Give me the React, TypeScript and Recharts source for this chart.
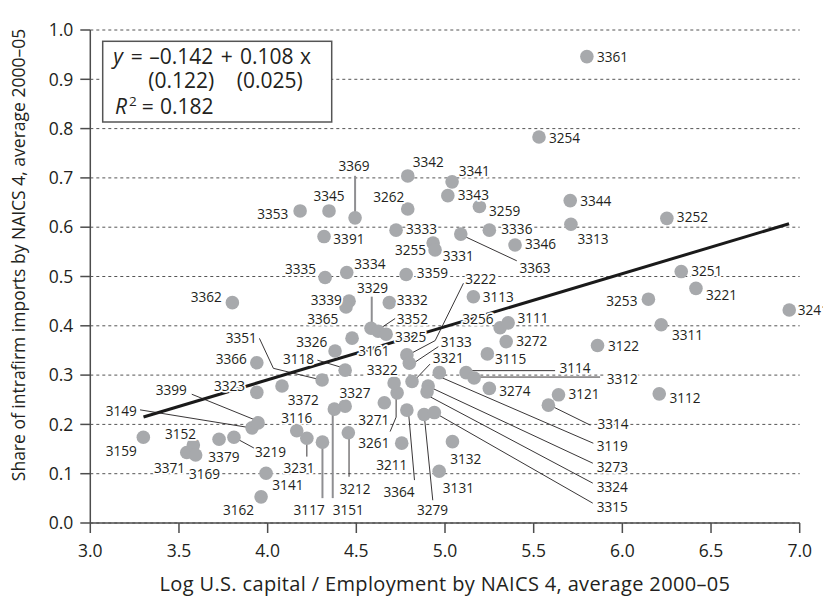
import React from 'react';
import { ComposedChart, Scatter, XAxis, YAxis, CartesianGrid } from 'recharts';

const codes = [
  '3361','3254','3342','3341','3343','3259','3336','3363','3346','3344',
  '3313','3252','3333','3262','3345','3353','3369','3391','3255','3331',
  '3335','3334','3359','3362','3339','3365','3329','3332','3352','3325',
  '3161','3326','3118','3351','3366','3323','3372','3327','3149','3399',
  '3159','3152','3371','3169','3379','3219','3116','3231','3117','3151',
  '3212','3141','3162','3271','3261','3364','3279','3211','3132','3131',
  '3222','3133','3321','3322','3256','3111','3113','3272','3115','3114',
  '3312','3274','3121','3314','3119','3273','3324','3315','3122','3253',
  '3251','3221','3311','3241','3112',
];

const xValues = [
  5.80, 5.53, 4.79, 5.04, 5.016, 5.194, 5.25, 5.089, 5.395, 5.706,
  5.71, 6.251, 4.724, 4.79, 4.346, 4.183, 4.493, 4.318, 4.933, 4.944,
  4.324, 4.446, 4.781, 3.801, 4.459, 4.442, 4.583, 4.686, 4.623, 4.668,
  4.476, 4.38, 4.437, 4.307, 3.939, 3.939, 4.081, 4.437, 3.912, 3.946,
  3.299, 3.581, 3.544, 3.594, 3.726, 3.81, 4.164, 4.221, 4.309, 4.376,
  4.455, 3.991, 3.963, 4.658, 4.73, 4.785, 4.882, 4.756, 5.042, 4.967,
  4.785, 4.799, 4.814, 4.713, 5.311, 5.356, 5.16, 5.345, 5.239, 5.119,
  5.164, 5.25, 5.64, 5.583, 4.968, 4.905, 4.899, 4.94, 5.86, 6.147,
  6.332, 6.415, 6.219, 6.941, 6.208,
];

const yValues = [
  0.946, 0.783, 0.704, 0.692, 0.664, 0.642, 0.594, 0.586, 0.564, 0.654,
  0.606, 0.618, 0.594, 0.637, 0.633, 0.633, 0.619, 0.581, 0.568, 0.554,
  0.498, 0.508, 0.504, 0.447, 0.45, 0.438, 0.395, 0.447, 0.389, 0.383,
  0.375, 0.349, 0.31, 0.29, 0.325, 0.265, 0.278, 0.237, 0.193, 0.203,
  0.174, 0.158, 0.143, 0.138, 0.17, 0.174, 0.187, 0.172, 0.164, 0.231,
  0.183, 0.101, 0.053, 0.244, 0.264, 0.229, 0.22, 0.162, 0.165, 0.105,
  0.341, 0.324, 0.287, 0.284, 0.396, 0.406, 0.459, 0.368, 0.343, 0.305,
  0.294, 0.273, 0.26, 0.239, 0.305, 0.278, 0.266, 0.224, 0.36, 0.454,
  0.51, 0.476, 0.402, 0.432, 0.262,
];

const xTicks = [3.0, 3.5, 4.0, 4.5, 5.0, 5.5, 6.0, 6.5, 7.0];
const yTicks = [0, 0.1, 0.2, 0.3, 0.4, 0.5, 0.6, 0.7, 0.8, 0.9, 1.0];

const fitX = [3.30, 6.94];
const fitY = [0.215, 0.607];

const xTitle = 'Log U.S. capital / Employment by NAICS 4, average 2000–05';
const yTitle = 'Share of intrafirm imports by NAICS 4, average 2000–05';

// label placement (pixel offsets from the point centre), kept apart from the data
type Lay = { dx: number; dy: number; a?: 'start' | 'middle' | 'end'; lead?: number[][]; gray?: boolean };
const labelLayout: Record<string, Lay> = {
  '3361': { dx: 10, dy: 5 },
  '3254': { dx: 10, dy: 5.7 },
  '3342': { dx: 5, dy: -8.5 },
  '3341': { dx: 6.6, dy: -6 },
  '3343': { dx: 10, dy: 4.3 },
  '3259': { dx: 9.7, dy: 9.3 },
  '3336': { dx: 12, dy: 4.3 },
  '3363': { dx: 58.6, dy: 38.7, lead: [[1, 1], [56, 26.7]] },
  '3346': { dx: 10, dy: 4.3 },
  '3344': { dx: 10, dy: 5 },
  '3313': { dx: 6.6, dy: 19.3 },
  '3252': { dx: 10, dy: 4 },
  '3333': { dx: 10, dy: 4 },
  '3262': { dx: -3.4, dy: -7.3, a: 'end' },
  '3345': { dx: 0, dy: -10, a: 'middle' },
  '3353': { dx: -11.7, dy: 7.6, a: 'end' },
  '3369': { dx: -1, dy: -46.7, a: 'middle', lead: [[0, -42], [0, 0]], gray: true },
  '3391': { dx: 9.3, dy: 7.3 },
  '3255': { dx: -7, dy: 12, a: 'end' },
  '3331': { dx: 7.7, dy: 11 },
  '3335': { dx: -9, dy: -3.4, a: 'end' },
  '3334': { dx: 7.6, dy: -3.4 },
  '3359': { dx: 10.7, dy: 3.4 },
  '3362': { dx: -10.6, dy: -1, a: 'end' },
  '3339': { dx: -7.3, dy: 4, a: 'end' },
  '3365': { dx: -7.7, dy: 17.3, a: 'end' },
  '3329': { dx: 1.5, dy: -35, a: 'middle', lead: [[0.7, -31.6], [0.7, 0]], gray: true },
  '3332': { dx: 7.4, dy: 2.3 },
  '3352': { dx: 18.7, dy: -7, lead: [[17, -12.7], [2, -2.7]] },
  '3325': { dx: 9, dy: 8.3 },
  '3161': { dx: 6.3, dy: 17.7 },
  '3326': { dx: -7.7, dy: -3.7, a: 'end' },
  '3118': { dx: -31, dy: -5.7, a: 'end', lead: [[-27.7, -10], [-3.3, -2.7]] },
  '3351': { dx: -65.3, dy: -37.3, a: 'end', lead: [[-62.7, -41.7], [-48.7, -11.7], [-4.7, -1]] },
  '3366': { dx: -10, dy: 1.6, a: 'end' },
  '3323': { dx: -11.7, dy: -1.3, a: 'end' },
  '3372': { dx: 5.7, dy: 19 },
  '3327': { dx: -5.7, dy: -7.7 },
  '3149': { dx: -115.3, dy: -12.3, a: 'end', lead: [[-112, -18], [-3, -0.3]] },
  '3399': { dx: -71.3, dy: -27.7, a: 'end', lead: [[-66.3, -28.7], [-1.3, -2.3]] },
  '3159': { dx: -6.6, dy: 18.7, a: 'end' },
  '3152': { dx: 2.7, dy: -6, a: 'end' },
  '3371': { dx: -1.7, dy: 20.6, a: 'end' },
  '3169': { dx: -6.7, dy: 24 },
  '3379': { dx: -10.7, dy: 22.7 },
  '3219': { dx: 21, dy: 19.4, lead: [[5, 2.7], [20.3, 11]] },
  '3116': { dx: 0, dy: -7.7, a: 'middle' },
  '3231': { dx: -7.9, dy: 35, a: 'middle', lead: [[0, 5], [0, 18.4]] },
  '3117': { dx: -13.3, dy: 72.7, a: 'middle', lead: [[0, 0], [0, 56]], gray: true },
  '3151': { dx: 14, dy: 105.7, a: 'middle', lead: [[-1.6, 0], [-1.6, 89]], gray: true },
  '3212': { dx: 6.7, dy: 61.6, a: 'middle', lead: [[0.7, 4], [0.7, 44]] },
  '3141': { dx: 6.3, dy: 16.7 },
  '3162': { dx: -7, dy: 18.3, a: 'end' },
  '3271': { dx: 5, dy: 22.3, a: 'end' },
  '3261': { dx: -7.7, dy: 55.3, a: 'end', lead: [[-1, 0], [-1, 24.3], [-7, 38.7]] },
  '3364': { dx: -7.9, dy: 86.7, a: 'middle', lead: [[1.6, 1.7], [7.6, 70]] },
  '3279': { dx: 8.5, dy: 100.7, a: 'middle', lead: [[0, -1], [8.7, 85.7]] },
  '3211': { dx: 5.6, dy: 26.7, a: 'end' },
  '3132': { dx: -2.3, dy: 22.6 },
  '3131': { dx: 3.7, dy: 21.3 },
  '3222': { dx: 58.3, dy: -70.7, lead: [[56.6, -71.7], [28.3, -14.3], [3.3, -1]] },
  '3133': { dx: 31.4, dy: -16, lead: [[29, -16.6], [4, 0]] },
  '3321': { dx: 20.7, dy: -18.4, lead: [[18, -17.4], [3, -1.7]] },
  '3322': { dx: 3.7, dy: -8, a: 'end' },
  '3256': { dx: -6.7, dy: -4, a: 'end' },
  '3111': { dx: 9.3, dy: 0.3 },
  '3113': { dx: 9.4, dy: 5 },
  '3272': { dx: 10, dy: 4.3 },
  '3115': { dx: 7.7, dy: 10 },
  '3114': { dx: 93.3, dy: 0.6, lead: [[2.3, -2], [89, -2]] },
  '3312': { dx: 132.7, dy: 6, lead: [[2.7, -1], [126, -1]] },
  '3274': { dx: 10, dy: 7.7 },
  '3121': { dx: 10, dy: 4.3 },
  '3314': { dx: 49, dy: 24, lead: [[3.4, 1], [42, 20]] },
  '3119': { dx: 157.4, dy: 78.3, lead: [[2.4, 5], [154, 70.6]] },
  '3273': { dx: 168.7, dy: 85.7, lead: [[2, 1.3], [164.7, 77.3]] },
  '3324': { dx: 169.7, dy: 100.3, lead: [[1.3, 4], [165.7, 91.3]] },
  '3315': { dx: 162.4, dy: 99.6, lead: [[4, 2.3], [158.4, 90.6]] },
  '3122': { dx: 10.4, dy: 5 },
  '3253': { dx: -11, dy: 7, a: 'end' },
  '3251': { dx: 10, dy: 4 },
  '3221': { dx: 10, dy: 11.7 },
  '3311': { dx: 10.7, dy: 15 },
  '3241': { dx: 8.5, dy: 5 },
  '3112': { dx: 10.3, dy: 8.7 },
};

const points = codes.map((code, i) => ({ code, x: xValues[i], y: yValues[i] }));
const fitData = fitX.map((x, i) => ({ x, y: fitY[i] }));

const FONT = '"Open Sans", "Noto Sans", sans-serif';
const INK = '#231f20';
const AXIS = '#4d4d4d';

const Dot = (p: any) => <circle cx={p.cx} cy={p.cy} r={6.8} fill="#a7a9ac" />;

const Leader = (p: any) => {
  const L = labelLayout[p.payload?.code];
  if (!L || !L.lead) return <g />;
  const pts = L.lead.map(([dx, dy]) => `${p.cx + dx},${p.cy + dy}`).join(' ');
  return (
    <polyline
      points={pts}
      fill="none"
      stroke={L.gray ? '#8f8f92' : INK}
      strokeWidth={L.gray ? 2 : 0.9}
    />
  );
};

const Tag = (p: any) => {
  const L = labelLayout[p.payload?.code] || { dx: 10, dy: 5 };
  return (
    <text
      x={p.cx + L.dx}
      y={p.cy + L.dy}
      textAnchor={L.a || 'start'}
      fontFamily={FONT}
      fontSize={13.6}
      fill={INK}
      stroke="#fff"
      strokeWidth={3.5}
      strokeLinejoin="round"
      paintOrder="stroke"
    >
      {p.payload.code}
    </text>
  );
};

const Empty = () => <g />;

const renderXTitle = () => (
  <text x={437} y={583} textAnchor="middle" fontFamily={FONT} fontSize={20} letterSpacing={0.35} fill={INK}>
    {xTitle}
  </text>
);

const renderYTitleAndBox = () => (
  <g>
    <text
      transform="rotate(-90)"
      x={-247}
      y={17}
      textAnchor="middle"
      fontFamily={FONT}
      fontSize={17.5}
      fill={INK}
    >
      {yTitle}
    </text>
    <rect x={94.7} y={33.3} width={229} height={80.7} fill="#fff" stroke="#555" strokeWidth={1.5} />
    <g fontFamily={FONT} fontSize={21} fill={INK}>
      <text x={105.3} y={56} fontStyle="italic">y</text>
      <text x={122.7} y={56}>=</text>
      <text x={141.3} y={56}>–0.142</text>
      <text x={212.7} y={56}>+</text>
      <text x={232} y={56}>0.108</text>
      <text x={292} y={56}>x</text>
      <text x={140.3} y={80.3}>(0.122)</text>
      <text x={228.7} y={80.3}>(0.025)</text>
      <text x={107} y={106.3} fontStyle="italic">R</text>
      <text x={121} y={98} fontSize={13.5}>2</text>
      <text x={133.7} y={106.3}>=</text>
      <text x={152} y={106.3}>0.182</text>
    </g>
  </g>
);

export default function App() {
  return (
    <div style={{ width: 823, height: 588 }}>
      <style>{'html,body{overflow:hidden} .recharts-wrapper,.recharts-surface{overflow:visible !important}'}</style>
      <ComposedChart
        width={823}
        height={588}
        margin={{ top: 22, right: 31.3, bottom: 0, left: 0 }}
      >
        <CartesianGrid horizontal vertical={false} stroke="#555" strokeDasharray="3 3" strokeWidth={1} />
        <XAxis
          type="number"
          dataKey="x"
          domain={[3, 7]}
          ticks={xTicks}
          tickFormatter={(v: number) => v.toFixed(1)}
          height={73}
          tickSize={10}
          tickMargin={12}
          axisLine={{ stroke: AXIS, strokeWidth: 1.5 }}
          tickLine={{ stroke: AXIS, strokeWidth: 1.5 }}
          tick={{ fill: INK, fontSize: 17.5, fontFamily: FONT }}
          label={renderXTitle}
        />
        <YAxis
          type="number"
          dataKey="y"
          domain={[0, 1]}
          ticks={yTicks}
          tickFormatter={(v: number) => v.toFixed(1)}
          width={82.3}
          tickSize={10}
          tickMargin={7}
          axisLine={{ stroke: AXIS, strokeWidth: 1.5 }}
          tickLine={{ stroke: AXIS, strokeWidth: 1.5 }}
          tick={{ fill: INK, fontSize: 17.5, fontFamily: FONT }}
          label={renderYTitleAndBox}
        />
        <Scatter
          data={fitData}
          dataKey="y"
          fill="#1a1a1a"
          line={{ stroke: '#1a1a1a', strokeWidth: 3 }}
          shape={Empty}
          isAnimationActive={false}
        />
        <Scatter data={points} dataKey="y" shape={Leader} isAnimationActive={false} />
        <Scatter data={points} dataKey="y" shape={Dot} isAnimationActive={false} />
        <Scatter data={points} dataKey="y" shape={Tag} isAnimationActive={false} />
      </ComposedChart>
    </div>
  );
}
